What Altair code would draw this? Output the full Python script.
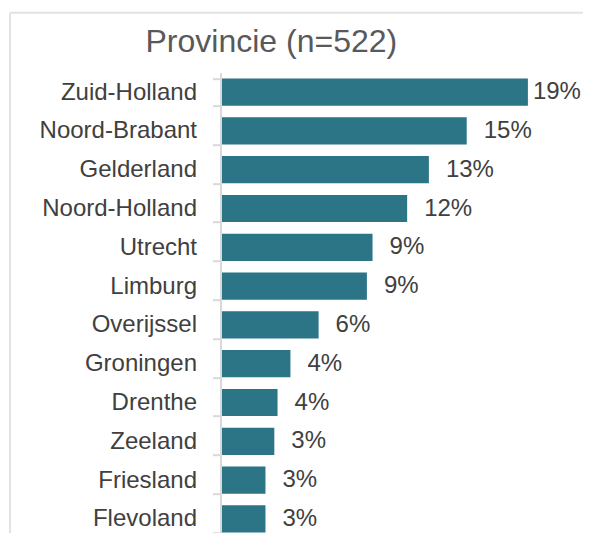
import altair as alt
import pandas as pd

categories = ["Zuid-Holland", "Noord-Brabant", "Gelderland", "Noord-Holland", "Utrecht",
              "Limburg", "Overijssel", "Groningen", "Drenthe", "Zeeland", "Friesland", "Flevoland"]
values = [19.0, 15.2, 12.85, 11.5, 9.35, 9.0, 6.0, 4.25, 3.45, 3.25, 2.7, 2.7]
labels = ["19%", "15%", "13%", "12%", "9%", "9%", "6%", "4%", "4%", "3%", "3%", "3%"]
title_text = "Provincie (n=522)"

FONT = "Liberation Sans"
BAR = "#2C7587"
GRAY = "#d9d9d9"
STEP = 38.8

df = pd.DataFrame({"provincie": categories, "pct": values, "label": labels})

y_enc = alt.Y("provincie:N", sort=categories,
              scale=alt.Scale(paddingInner=0.3, paddingOuter=0.15,
                              range=[0, STEP * len(categories)]),
              axis=alt.Axis(title=None, domain=True, domainColor=GRAY, domainWidth=2,
                            ticks=True, tickColor=GRAY, tickWidth=2, tickSize=8,
                            tickBand="extent", labelPadding=16, labelFont=FONT,
                            labelFontSize=24, labelColor="#404040", labelLimit=400,
                            offset=1.5, grid=False))
x_enc = alt.X("pct:Q", scale=alt.Scale(domain=[0, 20], nice=False), axis=None)

base = alt.Chart(df)

bars = base.mark_bar(color=BAR).encode(x=x_enc, y=y_enc)

txt_max = base.transform_joinaggregate(mx="max(pct)").transform_filter(
    "datum.pct == datum.mx").mark_text(
    align="left", baseline="middle", dx=5, font=FONT, fontSize=24, color="#404040"
).encode(x=x_enc, y=y_enc, text="label:N")

txt_rest = base.transform_joinaggregate(mx="max(pct)").transform_filter(
    "datum.pct < datum.mx").mark_text(
    align="left", baseline="middle", dx=17, font=FONT, fontSize=24, color="#404040"
).encode(x=x_enc, y=y_enc, text="label:N")

# decorative frame lines of the original chart picture
frame = pd.DataFrame({"k": [0]})
f1 = alt.Chart(frame).mark_rule(color="#e3e3e3", strokeWidth=2).encode(
    x=alt.value(-215), y=alt.value(-64), y2=alt.value(470))
f2 = alt.Chart(frame).mark_rule(color="#e3e3e3", strokeWidth=2).encode(
    x=alt.value(-212), y=alt.value(-60), y2=alt.value(470))
f3 = alt.Chart(frame).mark_rule(color="#e3e3e3", strokeWidth=2).encode(
    x=alt.value(-212), x2=alt.value(370), y=alt.value(-60))
f4 = alt.Chart(frame).mark_rule(color="#e3e3e3", strokeWidth=2).encode(
    x=alt.value(-222), x2=alt.value(-215), y=alt.value(-64))

chart = alt.layer(f1, f2, f3, f4, bars, txt_max, txt_rest).properties(
    width=322, height=460.3,
    autosize=alt.AutoSizeParams(type="none"),
    padding={"left": 214, "top": 64.7, "right": 39, "bottom": 0},
    title=alt.TitleParams(title_text, anchor="start", frame="group", dx=-76.5,
                          offset=0, dy=76.6, baseline="alphabetic", font=FONT,
                          fontSize=32, fontWeight="normal", color="#595959"),
).configure_view(stroke=None)

chart.save("out.html", embed_options={"renderer": "svg", "actions": False})
